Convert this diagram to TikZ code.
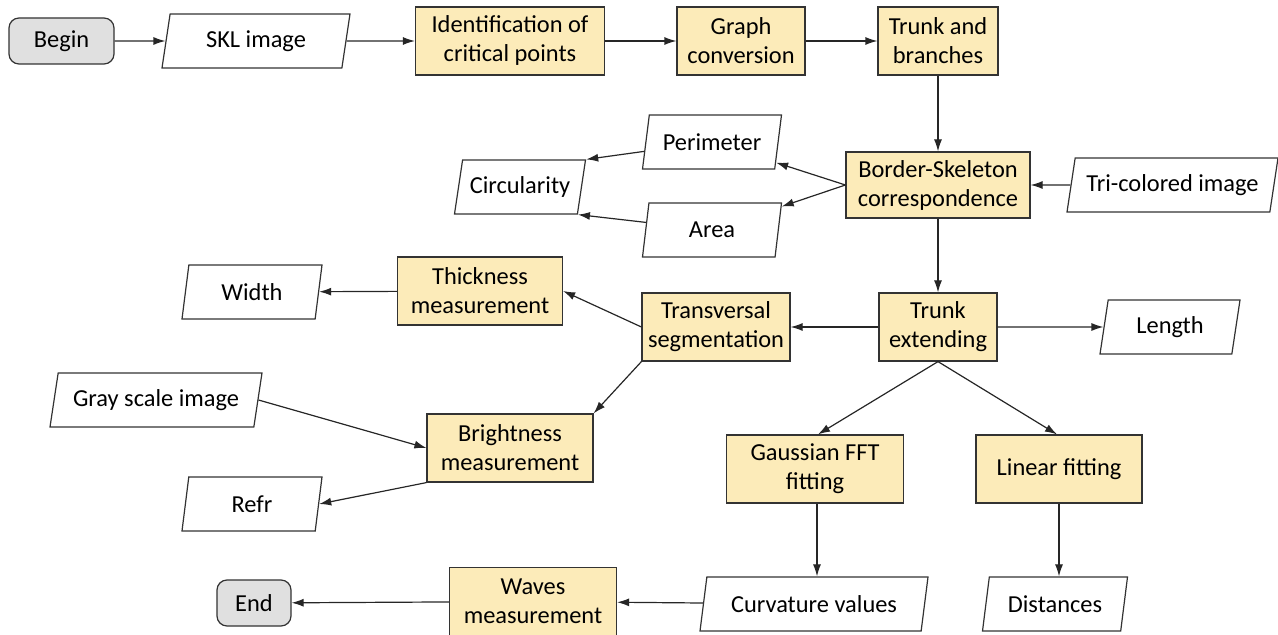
\documentclass[tikz,border=0pt]{standalone}
\usepackage{fontspec}
\setmainfont{Carlito}
\usetikzlibrary{shapes.geometric,arrows.meta}
\definecolor{procfill}{RGB}{252,235,185}
\definecolor{termfill}{RGB}{224,224,224}
\begin{document}
\begin{tikzpicture}[x=0.5pt,y=-0.5pt,
 base/.style={draw=black!80, line width=0.6pt, align=center, font=\fontsize{12.2}{14.5}\selectfont, inner sep=1pt},
 proc/.style={base, rectangle, fill=procfill, minimum height=34pt},
 term/.style={base, rectangle, rounded corners=5pt, fill=termfill, minimum height=23pt},
 io/.style={base, trapezium, trapezium left angle=72, trapezium right angle=108, trapezium stretches body, minimum height=27pt},
 arr/.style={-{Latex[length=6pt,width=4pt]}, line width=0.6pt, draw=black!85}]
\useasboundingbox (0,0) rectangle (1278,635);
% nodes
\node[term, minimum width=52.5pt] (begin) at (61.5,41) {Begin};
\node[io, minimum width=94pt] (skl) at (256,41) {SKL image};
\node[proc, minimum width=94.5pt] (ident) at (510,41) {Identification of\\critical points};
\node[proc, minimum width=64pt] (graph) at (741,41) {Graph\\conversion};
\node[proc, minimum width=60pt] (tb) at (938,41) {Trunk and\\branches};
\node[proc, minimum width=92pt, minimum height=33pt] (bsc) at (938,185) {Border-Skeleton\\correspondence};
\node[io, minimum width=105.5pt] (tri) at (1172.5,185) {Tri-colored image};
\node[io, minimum width=69.5pt] (per) at (712,142) {Perimeter};
\node[io, minimum width=65.5pt] (circ) at (520,187) {Circularity};
\node[io, minimum width=69.5pt] (area) at (712,230) {Area};
\node[proc, minimum width=82.5pt] (thick) at (480,291) {Thickness\\measurement};
\node[io, minimum width=70pt] (width) at (252,292) {Width};
\node[proc, minimum width=74pt] (trans) at (716,327) {Transversal\\segmentation};
\node[proc, minimum width=59pt] (te) at (938,327) {Trunk\\extending};
\node[io, minimum width=70pt] (len) at (1170,327) {Length};
\node[io, minimum width=106pt] (gray) at (156,400) {Gray scale image};
\node[proc, minimum width=83pt] (bright) at (510,448) {Brightness\\measurement};
\node[io, minimum width=70pt] (refr) at (252,504) {Refr};
\node[proc, minimum width=88.5pt] (gauss) at (815,469) {Gaussian FFT\\fitting};
\node[proc, minimum width=83pt] (lin) at (1059,469) {Linear fitting};
\node[io, minimum width=114pt] (curv) at (814,604) {Curvature values};
\node[io, minimum width=72.5pt] (dist) at (1055,604) {Distances};
\node[proc, minimum width=83.5pt] (waves) at (533,601.5) {Waves\\measurement};
\node[term, minimum width=37pt] (end) at (254,603) {End};
% connectors
\draw[arr] (begin) -- (skl);
\draw[arr] (skl) -- (ident);
\draw[arr] (ident) -- (graph);
\draw[arr] (graph) -- (tb);
\draw[arr] (tb) -- (bsc);
\draw[arr] (tri) -- (bsc);
\draw[arr] (bsc.west) -- (per);
\draw[arr] (bsc.west) -- (area);
\draw[arr] (per) -- (circ.top right corner);
\draw[arr] (area) -- (circ.bottom right corner);
\draw[arr] (bsc) -- (te);
\draw[arr] (te) -- (trans);
\draw[arr] (te) -- (len);
\draw[arr] (trans.west) -- (thick.east);
\draw[arr] (thick) -- (width);
\draw[arr] (trans.south west) -- (bright.north east);
\draw[arr] (gray.east) -- (bright.west);
\draw[arr] (bright.south west) -- (refr.right side);
\draw[arr] (te.south) -- ([xshift=1.5pt]gauss.north);
\draw[arr] (te.south) -- ([xshift=-1pt]lin.north);
\draw[arr] ([xshift=1pt]gauss.south) -- ([xshift=1pt]gauss.south |- curv.north);
\draw[arr] (lin.south) -- (lin.south |- dist.north);
\draw[arr] (curv) -- (waves);
\draw[arr] (waves) -- (end);
\end{tikzpicture}
\end{document}
